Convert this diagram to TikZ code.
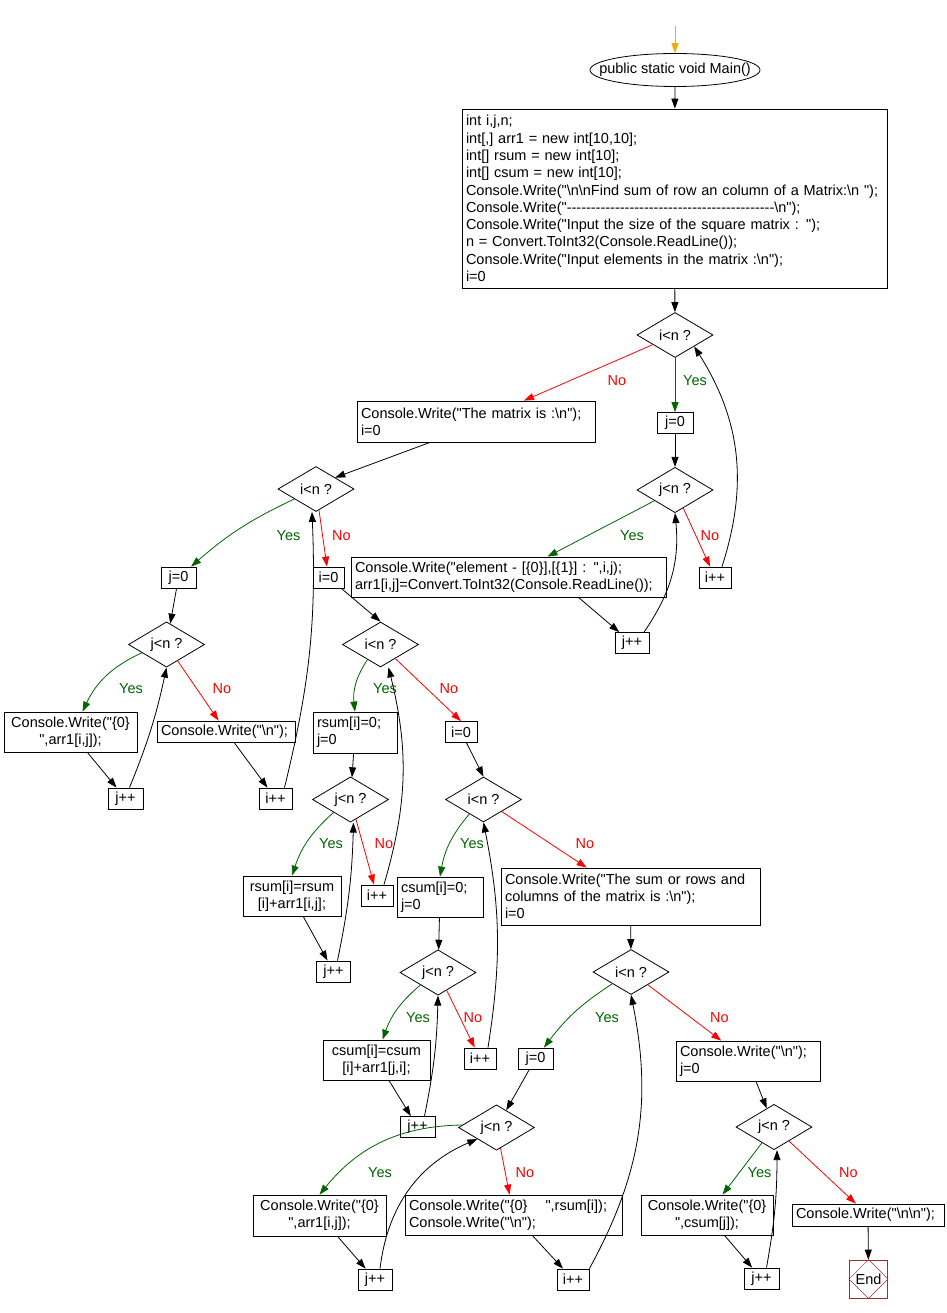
\documentclass[tikz,border=0pt]{standalone}
\usepackage{fontspec}
\newfontfamily\flowfont{Liberation Sans}
\usetikzlibrary{shapes,arrows.meta}

\definecolor{yescol}{RGB}{0,100,0}
\definecolor{nocol}{RGB}{255,0,0}
\definecolor{startcol}{RGB}{255,165,0}
\definecolor{endcol}{RGB}{165,42,42}
\newcommand{\bs}{\textbackslash}

\begin{document}
\begin{tikzpicture}[x=1pt,y=1pt,>={Triangle[length=10pt,width=7pt]}]
        \tikzstyle{every path}=[line width=0.8pt]
        \tikzstyle{every node}=[font=\flowfont\fontsize{14.5}{17.3}\selectfont]

        \edef\sizedec{76pt}
        \tikzstyle{box}=[draw,inner xsep=4pt,inner ysep=2pt,align=left]
        \tikzstyle{cbox}=[box,align=center]
        \tikzstyle{ctr}=[draw,inner sep=1pt,minimum height=21pt]
        \tikzstyle{dec}=[draw,diamond,inner sep=0pt,minimum width=\sizedec,minimum height=45pt]
        \tikzstyle{ylab}=[text=yescol]
        \tikzstyle{nlab}=[text=nocol]

        \useasboundingbox (0,0) rectangle (946,-1313);

        \coordinate (start) at (675,-26);
        \node[draw,ellipse,minimum width=170pt,minimum height=33pt] (main) at (675,-70) {};
        \node at (main.center) (main_label) {public static void Main()};

        \node[box,text width=417pt,minimum height=179pt] (init) at (674.5,-198.5) {int i,j,n;\\
            int[,] arr1 = new int[10,10];\\
            int[] rsum = new int[10];\\
            int[] csum = new int[10];\\
            Console.Write("\bs n\bs nFind sum of row an column of a Matrix:\bs n ");\\
            Console.Write("\foreach \k in {1,...,43}{-}\bs n");\\
            Console.Write("Input the size of the square matrix : ");\\
            n = Convert.ToInt32(Console.ReadLine());\\
            Console.Write("Input elements in the matrix :\bs n");\\
            i=0};
        \node[box,text width=230pt,minimum height=41pt] (bmat) at (476,-421.5) {Console.Write("The matrix is :\bs n");\\ i=0};
        \node[box,text width=307pt,minimum height=40pt] (bel) at (508.5,-577) {Console.Write("element - [\{0\}],[\{1\}] : ",i,j);\\ arr1[i,j]=Convert.ToInt32(Console.ReadLine());};
        \node[cbox,text width=125pt,minimum height=40pt] (bpr) at (70.5,-732) {Console.Write("\{0\}\\",arr1[i,j]);};
        \node[box,text width=130pt,minimum height=21pt] (bnl1) at (226,-731.5) {Console.Write("\bs n");};
        \node[box,text width=76pt,minimum height=41pt] (brs0) at (355,-732.5) {rsum[i]=0;\\ j=0};
        \node[cbox,text width=90pt,minimum height=40pt] (brs) at (292,-896) {rsum[i]=rsum\\{}[i]+arr1[i,j];};
        \node[box,text width=78pt,minimum height=40pt] (bcs0) at (440,-897) {csum[i]=0;\\ j=0};
        \node[box,text width=251pt,minimum height=57pt] (bsum) at (630.5,-896.5) {Console.Write("The sum or rows and\\ columns of the matrix is :\bs n");\\ i=0};
        \node[cbox,text width=99pt,minimum height=40pt] (bcs) at (376.5,-1060) {csum[i]=csum\\{}[i]+arr1[j,i];};
        \node[box,text width=136pt,minimum height=40pt] (bnl2) at (748,-1061) {Console.Write("\bs n");\\ j=0};
        \node[cbox,text width=125pt,minimum height=41pt] (bpr2) at (319.5,-1215.5) {Console.Write("\{0\}\\",arr1[i,j]);};
        \node[box,text width=209pt,minimum height=40pt] (brow) at (513.5,-1215) {Console.Write("\{0\}\hspace{18pt}",rsum[i]);\\ Console.Write("\bs n");};
        \node[cbox,text width=124pt,minimum height=40pt] (bpc) at (707,-1215) {Console.Write("\{0\}\\",csum[j]);};
        \node[box,text width=144pt,minimum height=22pt] (bnn) at (868,-1215) {Console.Write("\bs n\bs n");};

        \foreach \n/\x/\y/\lab in {d1/675/335/i, d2/675/490/j, d3/316/489/i, d4/166.5/644.5/j,
                d5/380.5/644.5/i, d6/350.5/799.5/j, d7/483.5/799.5/i, d8/438/972.5/j,
                d9/631/972/i, d10/496.5/1127.5/j, d11/774/1127/j}
            \node[dec] (\n) at (\x,-\y) {\lab<n ?};

        \foreach \n/\x/\y/\w/\lab in {jz1/675/423/36/j=0, ipp1/715/577.5/32/i++, jpp1/632/643/34/j++,
                jz2/178.5/577.5/35/j=0, iz2/328.5/577.5/31/i=0, jpp2/125.5/798.5/35/j++,
                ipp2/275.5/798.5/33/i++, iz3/461/732/32/i=0, ipp3/377/895.5/32/i++,
                jpp3/333.5/971.5/34/j++, ipp4/480/1058.5/32/i++, jpp4/417.5/1127/35/j++,
                jz5/535.5/1058.5/35/j=0, jpp5/375/1279.5/34/j++, ipp5/573/1279.5/32/i++,
                jpp6/761.5/1278.5/35/j++}
            \node[ctr,minimum width=\w pt] (\n) at (\x,-\y) {\lab};

        \node[draw=endcol,minimum size=38pt,inner sep=0pt] (end) at (868.5,-1279) {End};
        \draw[endcol,line width=0.5pt] (end.north) -- (end.east) -- (end.south) -- (end.west) -- cycle;

        \foreach \n/\x/\y in {d1/695/381, d2/632/536, d3/288.5/536, d4/131/689, d5/385/689,
                d6/331/844, d7/472/844, d8/418/1018, d9/607/1018, d10/380/1173, d11/759.5/1172.5}
            \node[ylab] (\n_yes) at (\x,-\y) {Yes};
        \foreach \n/\x/\y in {d1/617/381, d2/710/536, d3/341.5/536, d4/222/689, d5/449/689,
                d6/384/844, d7/585/844, d8/473/1018, d9/719.5/1018, d10/525/1173, d11/848.5/1172.5}
            \node[nlab] (\n_no) at (\x,-\y) {No};

        \draw[->,startcol] (start) -- (main);                     % start
        \draw[->] (main) -- (init);                               % Main -> decl
        \draw[->] (init) -- (d1);                                 % decl -> i<n
        \draw[->,yescol] (d1) -- (jz1);                           % i<n yes
        \draw[->,nocol] (d1) -- (bmat);                           % i<n no
        \draw[->] (jz1) -- (d2);                                  % j=0 -> j<n
        \draw[->,yescol] (d2) -- (bel);                           % j<n yes
        \draw[->,nocol] (d2) -- (ipp1);                           % j<n no
        \draw[->] ([xshift=70pt]bel.south) -- (jpp1);             % read -> j++
        \draw[->, bend right=20] ([xshift=12pt]jpp1.north) to (d2.south);      % j++ -> j<n
        \draw[->, bend right=25] ([xshift=7pt]ipp1.north) to (d1.south east);  % i++ -> i<n

        \draw[->] ([xshift=-46pt]bmat.south) -- (d3.north east); % matrix -> i<n
        \draw[->,yescol, bend right=8] (d3) to (jz2);             % i<n yes
        \draw[->,nocol] (d3) -- (iz2);                            % i<n no
        \draw[->] (jz2) -- (d4);                                  % j=0 -> j<n
        \draw[->,yescol, bend right=20] (d4) to ([xshift=12pt]bpr.north);      % j<n yes
        \draw[->,nocol] (d4) -- (bnl1);                           % j<n no
        \draw[->] (bpr) -- (jpp2);                                % print -> j++
        \draw[->] (bnl1) -- (ipp2);                               % newline -> i++
        \draw[->, bend right=5] ([xshift=4pt]jpp2.north) to (d4.south);        % j++ -> j<n
        \draw[->, bend right=8] ([xshift=9pt]ipp2.north) to ([xshift=-4pt]d3.south); % i++ -> i<n

        \draw[->] (iz2) -- (d5.north);                            % i=0 -> i<n
        \draw[->,yescol, bend right=20] (d5) to (brs0.north);     % i<n yes
        \draw[->,nocol] (d5) -- (iz3.north);                      % i<n no
        \draw[->] (brs0) -- (d6);                                 % rsum=0 -> j<n
        \draw[->,yescol, bend right=15] (d6) to (brs.north);      % j<n yes
        \draw[->,nocol] (d6) -- (ipp3);                           % j<n no
        \draw[->] (brs) -- (jpp3);                                % rsum -> j++
        \draw[->, bend right=5] ([xshift=4pt]jpp3.north) to ([xshift=3pt]d6.south);  % j++ -> j<n
        \draw[->, bend right=15] ([xshift=7pt]ipp3.north) to ([xshift=8pt]d5.south); % i++ -> i<n

        \draw[->] (iz3) -- (d7.north);                            % i=0 -> i<n
        \draw[->,yescol, bend right=15] (d7) to (bcs0.north);     % i<n yes
        \draw[->,nocol] (d7) -- (bsum);                           % i<n no
        \draw[->] (bcs0) -- (d8);                                 % csum=0 -> j<n
        \draw[->,yescol, bend right=15] (d8) to ([xshift=6pt]bcs.north);       % j<n yes
        \draw[->,nocol] (d8) -- (ipp4);                           % j<n no
        \draw[->] (bcs) -- (jpp4);                                % csum -> j++
        \draw[->, bend right=5] ([xshift=7pt]jpp4.north) to (d8.south);        % j++ -> j<n
        \draw[->, bend right=10] ([xshift=8pt]ipp4.north) to (d7.south);       % i++ -> i<n

        \draw[->] (bsum) -- (d9);                                 % sums -> i<n
        \draw[->,yescol, bend right=10] (d9) to (jz5);            % i<n yes
        \draw[->,nocol] (d9) -- (bnl2);                           % i<n no
        \draw[->] (jz5) -- (d10);                                 % j=0 -> j<n
        \draw[->,yescol, bend right=25] (d10) to (bpr2.north);    % j<n yes
        \draw[->,nocol] (d10) -- (brow);                          % j<n no
        \draw[->] (bpr2) -- (jpp5);                               % print -> j++
        \draw[->] (brow) -- (ipp5);                               % rsum -> i++
        \draw[->, bend left=30] ([xshift=5pt]jpp5.north) to (d10.south west);  % j++ -> j<n
        \draw[->, bend right=20] (ipp5.north east) to (d9.south);              % i++ -> i<n

        \draw[->] (bnl2) -- (d11);                                % j=0 -> j<n
        \draw[->,yescol] (d11) -- (bpc);                          % j<n yes
        \draw[->,nocol] (d11) -- (bnn);                           % j<n no
        \draw[->] (bpc) -- (jpp6);                                % csum -> j++
        \draw[->, bend right=5] ([xshift=5pt]jpp6.north) to ([xshift=3pt]d11.south); % j++ -> j<n
        \draw[->] (bnn) -- (end);                                 % -> End
\end{tikzpicture}
\end{document}
